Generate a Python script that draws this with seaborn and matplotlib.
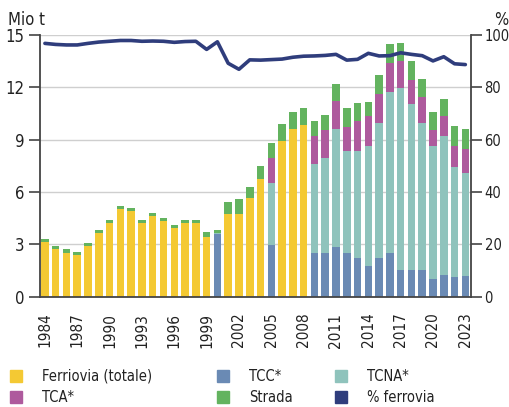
import numpy as np
import pandas as pd
import matplotlib
matplotlib.use("Agg")
import matplotlib.pyplot as plt
from matplotlib.lines import Line2D
import seaborn as sns

# Annual transalpine freight (million tonnes) and rail share (%)
years = list(range(1984, 2024))
ferrovia_totale = [3.15, 2.75, 2.52, 2.41, 2.92, 3.65, 4.24, 5.03, 4.91, 4.24,
                   4.64, 4.34, 3.95, 4.24, 4.24, 3.44, 0.00, 4.76, 4.76, 5.64,
                   6.74, 0.00, 8.92, 9.61, 9.82, 0.00, 0.00, 0.00, 0.00, 0.00,
                   0.00, 0.00, 0.00, 0.00, 0.00, 0.00, 0.00, 0.00, 0.00, 0.00]
tcc = [0.00, 0.00, 0.00, 0.00, 0.00, 0.00, 0.00, 0.00, 0.00, 0.00,
       0.00, 0.00, 0.00, 0.00, 0.00, 0.00, 3.58, 0.00, 0.00, 0.00,
       0.00, 2.94, 0.00, 0.00, 0.00, 2.52, 2.52, 2.85, 2.52, 2.24,
       1.74, 2.24, 2.52, 1.55, 1.55, 1.55, 1.02, 1.23, 1.14, 1.21]
tcna = [0.00, 0.00, 0.00, 0.00, 0.00, 0.00, 0.00, 0.00, 0.00, 0.00,
        0.00, 0.00, 0.00, 0.00, 0.00, 0.00, 0.07, 0.00, 0.00, 0.00,
        0.00, 3.58, 0.00, 0.00, 0.00, 5.10, 5.43, 6.78, 5.81, 6.09,
        6.91, 7.71, 9.22, 10.39, 9.48, 8.40, 7.62, 7.98, 6.29, 5.88]
tca = [0.00, 0.00, 0.00, 0.00, 0.00, 0.00, 0.00, 0.00, 0.00, 0.00,
       0.00, 0.00, 0.00, 0.00, 0.00, 0.00, 0.00, 0.00, 0.00, 0.00,
       0.00, 1.45, 0.00, 0.00, 0.00, 1.61, 1.60, 1.58, 1.39, 1.74,
       1.69, 1.68, 1.63, 1.58, 1.41, 1.49, 0.91, 1.13, 1.21, 1.36]
strada = [0.14, 0.15, 0.21, 0.17, 0.16, 0.15, 0.16, 0.15, 0.17, 0.16,
          0.17, 0.15, 0.16, 0.16, 0.16, 0.27, 0.15, 0.65, 0.84, 0.65,
          0.77, 0.84, 0.96, 0.96, 0.98, 0.86, 0.85, 0.98, 1.08, 1.03,
          0.84, 1.07, 1.12, 1.04, 1.07, 1.04, 1.03, 0.97, 1.14, 1.14]
pct_ferrovia = [96.8, 96.4, 96.2, 96.2, 96.8, 97.3, 97.6, 97.9, 97.9, 97.6,
                97.7, 97.6, 97.2, 97.5, 97.6, 94.5, 97.4, 89.2, 86.9, 90.5,
                90.4, 90.6, 90.8, 91.5, 91.9, 92.0, 92.2, 92.6, 90.4, 90.7,
                93.0, 92.0, 92.1, 93.2, 92.6, 92.1, 90.1, 91.7, 89.0, 88.7]

label_years = list(range(1984, 2024, 3))

series = [
    ("Ferriovia (totale)", ferrovia_totale, "#F4C933"),
    ("TCC*", tcc, "#6A8AB4"),
    ("TCNA*", tcna, "#8FC3BC"),
    ("TCA*", tca, "#AE5A9D"),
    ("Strada", strada, "#63B35F"),
]
line_color = "#2F3D7C"

sns.set_theme(style="white")
plt.rcParams["font.family"] = ["DejaVu Sans"]
plt.rcParams["font.stretch"] = "condensed"
plt.rcParams["font.size"] = 11

ink = "#444444"
txt = "#222222"
fig = plt.figure(figsize=(5.10, 4.07), dpi=100)
ax = fig.add_axes([0.0775, 0.271, 0.8455, 0.643])

df = pd.DataFrame({"anno": years})
bottom = np.zeros(len(years))
for name, vals, col in series:
    df["v"] = vals
    sns.barplot(data=df, x="anno", y="v", color=col, width=0.7,
                bottom=bottom.copy(), errorbar=None, linewidth=0,
                saturation=1, ax=ax)
    bottom += np.array(vals)

ax.set_ylim(0, 15)
ax.set_xlim(-0.5, len(years) - 0.5)
ax.set_yticks([0, 3, 6, 9, 12, 15])
ax.yaxis.grid(True, color="#cfcfcf", linewidth=1.0)
ax.set_axisbelow(True)
ax.set_xlabel("")
ax.set_ylabel("")

pos = [years.index(y) for y in label_years]
ax.set_xticks(pos)
ax.set_xticklabels([str(y) for y in label_years], rotation=90, va="top", ha="center")
ax.set_xticks(np.arange(-0.5, len(years), 1.0), minor=True)
ax.tick_params(axis="x", which="major", length=0, pad=11.5, labelsize=11, colors=txt)
ax.tick_params(axis="x", which="minor", length=8.5, width=1.2, color=ink, direction="out")
ax.tick_params(axis="y", length=8, width=1.2, color=ink, direction="out",
               pad=3, labelsize=12, labelcolor=txt, left=True)

for s in ["top", "right"]:
    ax.spines[s].set_visible(False)
for s in ["left", "bottom"]:
    ax.spines[s].set_color(ink)
    ax.spines[s].set_linewidth(1.3)

ax2 = ax.twinx()
sns.lineplot(x=np.arange(len(years)), y=pct_ferrovia, color=line_color,
             linewidth=2.6, ax=ax2)
ax2.set_ylim(0, 100)
ax2.set_yticks([0, 20, 40, 60, 80, 100])
ax2.tick_params(axis="y", length=8, width=1.2, color=ink, direction="out",
                pad=2, labelsize=10.5, labelcolor=txt, right=True)
for s in ["top", "left", "bottom"]:
    ax2.spines[s].set_visible(False)
ax2.spines["right"].set_color(ink)
ax2.spines["right"].set_linewidth(1.3)
ax2.set_ylabel("")

fig.text(0.016, 0.938, "Mio t", fontsize=12, ha="left", va="baseline", color=txt)
fig.text(0.996, 0.938, "%", fontsize=12, ha="right", va="baseline", color=txt)

def sq(c):
    return Line2D([], [], marker="s", linestyle="none", markersize=8,
                  markerfacecolor=c, markeredgecolor=c)

cols = {name: col for name, _, col in series}
legend_cols = [
    (10, [("Ferriovia (totale)", cols["Ferriovia (totale)"]), ("TCA*", cols["TCA*"])]),
    (217, [("TCC*", cols["TCC*"]), ("Strada", cols["Strada"])]),
    (335, [("TCNA*", cols["TCNA*"]), ("% ferrovia", line_color)]),
]
for xpx, entries in legend_cols:
    leg = fig.legend([sq(c) for _, c in entries], [n for n, _ in entries],
                     ncol=1, loc="lower left", bbox_to_anchor=(xpx / 510, 0.004),
                     frameon=False, fontsize=10.5, handletextpad=1.4,
                     labelspacing=0.45, handlelength=0.8, borderaxespad=0,
                     borderpad=0)
    for t in leg.get_texts():
        t.set_color(txt)

fig.savefig("out.png", dpi=100)
